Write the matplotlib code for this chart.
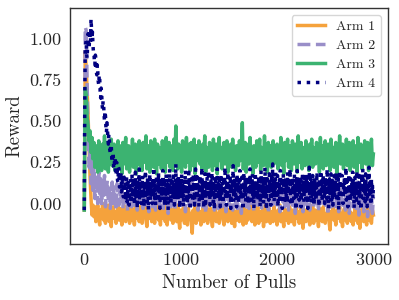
import matplotlib
matplotlib.use("Agg")
import matplotlib.pyplot as plt

plt.rcParams['font.family'] = 'serif'
plt.rcParams['font.serif'] = ['cmr10', 'DejaVu Serif']
plt.rcParams['axes.formatter.use_mathtext'] = True
plt.rcParams['axes.unicode_minus'] = False
plt.rcParams['text.color'] = '.15'
plt.rcParams['xtick.color'] = '.15'
plt.rcParams['ytick.color'] = '.15'
plt.rcParams['axes.labelcolor'] = '.15'

# arms 1-3: one value every 10 pulls (each row = 100 pulls)
pulls = list(range(0, 3001, 10))
# arm 4 is read a bit finer: every 5 pulls (each row = 100 pulls)
pulls_arm4 = list(range(0, 3001, 5))

arm1 = [
    -0.04, 0.92, 0.82, 0.68, 0.52, 0.34, 0.16, 0.03, -0.07, -0.01,
    -0.08, -0.02, -0.11, -0.05, -0.01, -0.09, -0.13, -0.04, -0.07, 0.00,
    -0.10, -0.06, -0.12, -0.03, -0.08, -0.01, -0.11, -0.06, -0.14, -0.04,
    -0.02, -0.09, -0.05, -0.12, -0.07, 0.01, -0.10, -0.03, -0.08, -0.13,
    -0.05, -0.01, -0.09, -0.11, -0.04, -0.07, -0.02, -0.12, -0.06, -0.10,
    -0.03, -0.08, -0.13, -0.05, 0.00, -0.09, -0.06, -0.11, -0.02, -0.07,
    -0.12, -0.04, -0.08, -0.01, -0.10, -0.14, -0.05, -0.03, -0.09, -0.06,
    -0.11, -0.02, -0.07, -0.12, -0.04, -0.08, 0.01, -0.10, -0.05, -0.13,
    -0.03, -0.09, -0.06, -0.01, -0.11, -0.07, -0.13, -0.04, -0.08, -0.02,
    -0.10, -0.05, -0.12, -0.03, -0.08, -0.06, -0.11, -0.01, -0.09, -0.15,
    -0.04, -0.10, -0.07, -0.02, -0.12, -0.05, -0.09, -0.13, -0.03, -0.08,
    -0.06, -0.11, -0.18, -0.04, -0.09, -0.01, -0.12, -0.07, -0.03, -0.10,
    -0.05, -0.13, -0.08, -0.02, -0.11, -0.06, -0.09, 0.00, -0.12, -0.04,
    -0.08, -0.03, -0.10, -0.14, -0.05, -0.07, -0.01, -0.11, -0.06, -0.09,
    -0.12, -0.04, -0.08, -0.02, -0.10, -0.13, -0.05, -0.07, -0.03, -0.11,
    -0.06, -0.09, -0.01, -0.12, -0.04, -0.08, -0.14, -0.05, -0.10, -0.02,
    -0.07, -0.11, -0.03, -0.09, -0.06, -0.13, -0.02, -0.08, -0.12, -0.04,
    -0.10, -0.05, -0.08, 0.01, -0.11, -0.07, -0.03, -0.13, -0.06, -0.09,
    -0.02, -0.12, -0.05, -0.08, -0.10, -0.04, -0.14, -0.07, -0.01, -0.11,
    -0.06, -0.09, -0.03, -0.12, -0.05, -0.08, -0.11, -0.02, -0.10, -0.07,
    -0.13, -0.04, -0.08, -0.01, -0.11, -0.06, -0.09, -0.14, -0.03, -0.07,
    -0.10, -0.05, -0.12, -0.02, -0.08, -0.11, -0.04, -0.07, -0.13, -0.06,
    -0.01, -0.09, -0.05, -0.12, -0.08, -0.03, -0.10, -0.15, -0.06, -0.04,
    -0.11, -0.07, -0.02, -0.09, -0.13, -0.05, -0.08, -0.01, -0.12, -0.06,
    -0.04, -0.10, -0.07, -0.14, -0.03, -0.09, -0.05, -0.11, -0.02, -0.08,
    -0.12, -0.06, -0.09, -0.03, -0.11, -0.16, -0.05, -0.08, -0.01, -0.10,
    -0.07, -0.13, -0.04, -0.09, -0.06, -0.02, -0.11, -0.08, -0.14, -0.05,
    -0.03, -0.10, -0.07, -0.12, -0.01, -0.09, -0.05, -0.11, -0.06, -0.13,
    -0.08, -0.02, -0.10, -0.05, -0.12, -0.07, -0.15, -0.04, -0.09, -0.03,
    -0.11, -0.06, -0.08, -0.13, -0.02, -0.10, -0.05, -0.09, -0.12, -0.04,
    -0.07]

arm2 = [
    -0.04, 1.07, 1.05, 0.72, 0.38, 0.22, 0.33, 0.12, 0.27, 0.08,
    0.22, 0.03, 0.18, 0.10, 0.00, 0.20, 0.06, 0.15, -0.01, 0.12,
    0.05, 0.17, -0.02, 0.09, 0.14, 0.01, 0.11, -0.03, 0.08, 0.13,
    0.00, 0.10, 0.04, -0.04, 0.12, 0.06, -0.01, 0.09, 0.02, 0.11,
    -0.03, 0.07, 0.13, 0.01, 0.05, -0.05, 0.10, 0.03, 0.08, -0.02,
    0.12, 0.04, -0.01, 0.09, 0.06, -0.04, 0.11, 0.00, 0.07, 0.13,
    0.02, -0.03, 0.08, 0.10, -0.01, 0.05, 0.12, -0.05, 0.06, 0.03,
    0.09, -0.02, 0.11, 0.04, -0.04, 0.07, 0.01, 0.13, -0.01, 0.08,
    0.05, 0.10, -0.03, 0.06, 0.12, 0.00, 0.08, -0.06, 0.04, 0.11,
    -0.02, 0.07, 0.03, 0.13, -0.04, 0.09, 0.05, 0.01, 0.10, -0.03,
    0.06, 0.12, -0.01, 0.04, 0.08, -0.05, 0.11, 0.02, 0.07, -0.02,
    0.10, 0.03, 0.13, -0.03, 0.05, 0.09, 0.00, 0.06, -0.04, 0.12,
    0.01, 0.08, 0.04, -0.02, 0.11, 0.06, -0.06, 0.09, 0.03, 0.07,
    -0.01, 0.12, 0.05, 0.00, 0.10, -0.04, 0.07, 0.13, 0.02, -0.03,
    0.08, 0.04, 0.11, -0.02, 0.06, 0.01, 0.09, -0.05, 0.12, 0.05,
    -0.01, 0.07, 0.10, 0.03, -0.04, 0.08, 0.13, 0.00, 0.06, -0.03,
    0.11, 0.02, 0.09, -0.06, 0.05, 0.12, 0.01, 0.07, -0.02, 0.10,
    0.04, -0.03, 0.08, 0.13, 0.00, 0.06, -0.05, 0.11, 0.03, 0.09,
    -0.01, 0.07, 0.12, 0.02, -0.04, 0.10, 0.05, 0.08, -0.02, 0.13,
    0.03, -0.06, 0.09, 0.06, 0.11, -0.01, 0.04, 0.12, 0.00, 0.07,
    -0.03, 0.10, 0.05, -0.05, 0.08, 0.13, 0.01, 0.06, -0.02, 0.11,
    0.04, 0.09, -0.04, 0.07, 0.02, 0.12, -0.01, 0.05, 0.10, -0.06,
    0.08, 0.03, 0.11, -0.02, 0.06, 0.13, 0.00, -0.05, 0.09, 0.04,
    0.12, -0.01, 0.07, 0.05, -0.04, 0.10, 0.02, 0.08, -0.03, 0.11,
    0.06, 0.00, 0.13, -0.05, 0.09, 0.03, 0.07, -0.02, 0.12, 0.04,
    -0.01, 0.10, 0.06, -0.07, 0.08, 0.11, 0.02, -0.03, 0.09, 0.05,
    0.13, -0.02, 0.07, 0.04, -0.05, 0.10, 0.01, 0.12, -0.01, 0.06,
    0.09, -0.04, 0.11, 0.03, 0.07, -0.06, 0.08, 0.02, 0.12, -0.02,
    0.05, 0.10, -0.03, 0.06, 0.13, -0.07, 0.04, 0.09, 0.00, 0.11,
    -0.05, 0.08, 0.03, 0.12, -0.08, 0.06, 0.10, -0.03, 0.07, -0.06,
    0.04]

arm3 = [
    -0.04, 0.70, 0.66, 0.52, 0.47, 0.38, 0.44, 0.31, 0.40, 0.27,
    0.37, 0.22, 0.35, 0.29, 0.19, 0.38, 0.25, 0.33, 0.20, 0.36,
    0.27, 0.41, 0.21, 0.31, 0.37, 0.19, 0.34, 0.26, 0.39, 0.23,
    0.30, 0.36, 0.20, 0.33, 0.25, 0.38, 0.22, 0.35, 0.29, 0.18,
    0.37, 0.24, 0.32, 0.40, 0.21, 0.28, 0.35, 0.19, 0.33, 0.26,
    0.39, 0.22, 0.30, 0.36, 0.18, 0.34, 0.27, 0.38, 0.23, 0.31,
    0.20, 0.37, 0.25, 0.33, 0.41, 0.21, 0.29, 0.35, 0.19, 0.38,
    0.26, 0.32, 0.22, 0.39, 0.28, 0.18, 0.36, 0.24, 0.34, 0.30,
    0.21, 0.38, 0.27, 0.33, 0.19, 0.40, 0.25, 0.31, 0.37, 0.22,
    0.35, 0.28, 0.20, 0.39, 0.24, 0.47, 0.30, 0.21, 0.36, 0.26,
    0.33, 0.19, 0.38, 0.27, 0.34, 0.22, 0.40, 0.25, 0.31, 0.36,
    0.20, 0.37, 0.29, 0.23, 0.39, 0.18, 0.35, 0.26, 0.32, 0.38,
    0.24, 0.30, 0.21, 0.36, 0.27, 0.41, 0.19, 0.34, 0.28, 0.22,
    0.37, 0.25, 0.33, 0.20, 0.39, 0.29, 0.23, 0.36, 0.18, 0.32,
    0.40, 0.26, 0.34, 0.21, 0.30, 0.37, 0.24, 0.28, 0.38, 0.19,
    0.33, 0.27, 0.36, 0.22, 0.39, 0.25, 0.31, 0.20, 0.35, 0.29,
    0.23, 0.38, 0.26, 0.34, 0.49, 0.21, 0.32, 0.37, 0.19, 0.30,
    0.36, 0.24, 0.40, 0.27, 0.33, 0.18, 0.35, 0.28, 0.22, 0.38,
    0.25, 0.31, 0.39, 0.20, 0.34, 0.29, 0.23, 0.41, 0.26, 0.32,
    0.19, 0.37, 0.28, 0.35, 0.22, 0.30, 0.38, 0.24, 0.33, 0.27,
    0.36, 0.21, 0.34, 0.29, 0.40, 0.23, 0.31, 0.18, 0.37, 0.26,
    0.32, 0.39, 0.22, 0.35, 0.27, 0.20, 0.38, 0.30, 0.24, 0.36,
    0.28, 0.19, 0.41, 0.25, 0.33, 0.37, 0.21, 0.34, 0.29, 0.23,
    0.38, 0.26, 0.31, 0.20, 0.36, 0.28, 0.39, 0.22, 0.34, 0.30,
    0.24, 0.37, 0.27, 0.33, 0.19, 0.40, 0.25, 0.35, 0.21, 0.32,
    0.38, 0.23, 0.30, 0.36, 0.26, 0.20, 0.39, 0.28, 0.34, 0.22,
    0.31, 0.37, 0.18, 0.35, 0.27, 0.41, 0.24, 0.29, 0.36, 0.21,
    0.33, 0.26, 0.39, 0.23, 0.30, 0.37, 0.20, 0.34, 0.28, 0.38,
    0.22, 0.35, 0.29, 0.19, 0.40, 0.25, 0.32, 0.36, 0.21, 0.33,
    0.27, 0.38, 0.24, 0.31, 0.37, 0.20, 0.35, 0.29, 0.39, 0.23,
    0.30]

arm4 = [
    -0.04, 0.60, 0.93, 0.97, 0.99, 0.90, 0.88, 0.97, 1.03, 0.95, 0.94, 1.01, 1.05, 0.98, 1.12, 1.06, 1.00, 1.04, 0.96, 0.92,
    0.92, 0.86, 0.84, 0.90, 0.88, 0.80, 0.78, 0.84, 0.80, 0.74, 0.72, 0.78, 0.76, 0.68, 0.64, 0.70, 0.67, 0.60, 0.57, 0.62,
    0.61, 0.54, 0.50, 0.56, 0.53, 0.46, 0.43, 0.49, 0.46, 0.39, 0.36, 0.42, 0.40, 0.33, 0.30, 0.36, 0.35, 0.28, 0.25, 0.31,
    0.30, 0.22, 0.21, 0.28, 0.27, 0.18, 0.17, 0.25, 0.24, 0.14, 0.13, 0.22, 0.21, 0.10, 0.10, 0.19, 0.19, 0.07, 0.08, 0.17,
    0.17, 0.04, 0.05, 0.16, 0.15, 0.09, 0.02, 0.13, 0.16, 0.01, 0.06, 0.14, 0.12, -0.01, 0.08, 0.15, 0.14, 0.00, 0.05, 0.18,
    0.03, 0.12, 0.07, 0.16, -0.01, 0.10, 0.19, 0.04, 0.13, 0.08, -0.03, 0.15, 0.06, 0.11, 0.21, 0.02, 0.09, 0.14, 0.00, 0.12,
    0.07, 0.17, 0.03, 0.10, -0.02, 0.13, 0.08, 0.20, 0.05, 0.11, 0.01, 0.16, 0.09, -0.04, 0.12, 0.06, 0.18, 0.02, 0.14, 0.08,
    0.11, 0.00, 0.15, 0.05, 0.22, 0.09, 0.03, 0.13, -0.01, 0.10, 0.17, 0.06, 0.12, 0.01, 0.19, 0.07, 0.14, -0.03, 0.09, 0.16,
    0.04, 0.12, 0.08, 0.20, 0.02, 0.11, 0.15, -0.02, 0.09, 0.06, 0.18, 0.03, 0.13, 0.10, -0.04, 0.14, 0.07, 0.21, 0.05, 0.11,
    0.00, 0.16, 0.08, 0.13, 0.03, 0.19, 0.10, -0.01, 0.12, 0.06, 0.24, 0.04, 0.14, 0.09, 0.01, 0.17, 0.07, 0.11, -0.03, 0.15,
    0.05, 0.10, 0.18, 0.02, 0.13, 0.08, -0.02, 0.16, 0.06, 0.12, 0.20, 0.03, 0.09, 0.14, 0.00, 0.11, 0.07, 0.19, 0.04, 0.13,
    -0.04, 0.10, 0.15, 0.06, 0.12, 0.01, 0.18, 0.08, 0.14, -0.01, 0.09, 0.21, 0.05, 0.11, 0.03, 0.16, 0.07, 0.13, -0.02, 0.10,
    0.17, 0.04, 0.12, 0.08, 0.22, 0.02, 0.14, 0.09, -0.03, 0.11, 0.06, 0.18, 0.00, 0.13, 0.07, 0.16, 0.03, 0.10, 0.20, 0.05,
    0.12, -0.01, 0.09, 0.15, 0.04, 0.19, 0.07, 0.11, 0.01, 0.14, -0.04, 0.10, 0.17, 0.06, 0.13, 0.02, 0.21, 0.08, 0.12, 0.03,
    0.15, 0.07, -0.02, 0.11, 0.18, 0.05, 0.13, 0.09, 0.00, 0.16, 0.08, 0.12, 0.22, 0.03, 0.10, -0.01, 0.14, 0.06, 0.19, 0.09,
    0.02, 0.13, 0.07, 0.17, -0.03, 0.11, 0.05, 0.15, 0.09, 0.23, 0.01, 0.12, 0.06, 0.16, 0.04, 0.10, -0.02, 0.18, 0.08, 0.13,
    0.00, 0.14, 0.09, 0.20, 0.05, 0.11, 0.02, 0.16, 0.07, -0.04, 0.12, 0.19, 0.04, 0.10, 0.15, 0.01, 0.13, 0.08, 0.17, 0.03,
    0.11, -0.01, 0.16, 0.06, 0.21, 0.09, 0.13, 0.02, 0.10, 0.18, 0.05, 0.14, -0.03, 0.12, 0.07, 0.19, 0.03, 0.11, 0.15, 0.06,
    0.13, 0.01, 0.17, 0.08, 0.12, -0.02, 0.10, 0.20, 0.04, 0.14, 0.07, 0.11, 0.00, 0.16, 0.09, 0.22, 0.05, 0.12, -0.04, 0.10,
    0.15, 0.06, 0.11, 0.02, 0.18, 0.08, 0.13, -0.01, 0.10, 0.16, 0.04, 0.24, 0.07, 0.12, 0.01, 0.14, 0.09, 0.19, 0.03, 0.11,
    0.06, 0.17, -0.02, 0.12, 0.08, 0.15, 0.03, 0.20, 0.10, 0.05, 0.13, -0.03, 0.11, 0.18, 0.07, 0.14, 0.02, 0.09, 0.16, 0.04,
    0.12, 0.00, 0.19, 0.08, 0.14, 0.05, 0.10, 0.21, 0.01, 0.13, 0.07, -0.01, 0.16, 0.09, 0.12, 0.03, 0.18, 0.06, 0.11, -0.04,
    0.14, 0.08, 0.20, 0.04, 0.11, 0.15, 0.02, 0.12, 0.07, 0.17, -0.02, 0.10, 0.05, 0.19, 0.09, 0.13, 0.01, 0.16, 0.06, 0.11,
    0.03, 0.18, 0.09, 0.13, -0.03, 0.12, 0.07, 0.22, 0.05, 0.10, 0.15, 0.00, 0.14, 0.08, 0.17, 0.04, 0.11, -0.01, 0.16, 0.09,
    0.13, 0.02, 0.10, 0.19, 0.06, 0.12, 0.08, -0.02, 0.15, 0.04, 0.11, 0.20, 0.07, 0.14, 0.01, 0.09, 0.17, 0.05, 0.12, 0.00,
    0.16, 0.08, 0.11, 0.03, 0.21, 0.07, 0.13, -0.03, 0.10, 0.15, 0.05, 0.12, 0.18, 0.02, 0.09, 0.14, -0.01, 0.11, 0.06, 0.17,
    0.04, 0.13, 0.09, 0.19, 0.01, 0.12, 0.07, 0.15, -0.04, 0.10, 0.20, 0.06, 0.14, 0.03, 0.11, 0.17, 0.08, 0.00, 0.13, 0.09,
    0.16, 0.05, 0.12, 0.22, 0.02, 0.10, 0.14, -0.02, 0.08, 0.18, 0.06, 0.11, 0.01, 0.15, 0.09, 0.13, 0.04, 0.19, 0.07, 0.12,
    -0.03, 0.11, 0.16, 0.06, 0.13, 0.02, 0.20, 0.08, 0.10, 0.14, 0.00, 0.17, 0.05, 0.12, -0.04, 0.09, 0.15, 0.07, 0.21, 0.03,
    0.11, 0.06, 0.14, 0.01, 0.18, 0.09, 0.12, -0.02, 0.16, 0.05, 0.10, 0.22, 0.04, 0.13, 0.08, -0.01, 0.15, 0.07, 0.12, 0.03,
    0.10]

labels = ['Arm 1', 'Arm 2', 'Arm 3', 'Arm 4']
colors = ['#f5a23c', '#998ec8', '#3cb371', 'navy']
styles = ['-', '--', '-', ':']
xs = [pulls, pulls, pulls, pulls_arm4]

fig, ax = plt.subplots(figsize=(3.99, 3.0), dpi=100)
fig.subplots_adjust(left=0.175, right=0.972, top=0.973, bottom=0.187)

for x, vals, lab, col, ls in zip(xs, [arm1, arm2, arm3, arm4], labels, colors, styles):
    ax.plot(x, vals, color=col, linestyle=ls, linewidth=2.5, label=lab)

ax.set_xlabel('Number of Pulls', fontsize=13.5)
ax.set_ylabel('Reward', fontsize=13.5)
ax.set_xticks([0, 1000, 2000, 3000])
ax.set_yticks([0.0, 0.25, 0.5, 0.75, 1.0])
ax.set_yticklabels(['0.00', '0.25', '0.50', '0.75', '1.00'])
ax.tick_params(axis='both', length=0, labelsize=13, pad=6)
for sp in ax.spines.values():
    sp.set_color('.2')
    sp.set_linewidth(1.0)

leg = ax.legend(loc='upper right', fontsize=10, frameon=True, labelspacing=0.45)
leg.get_frame().set_edgecolor('0.8')

fig.savefig('out.png', dpi=100)
